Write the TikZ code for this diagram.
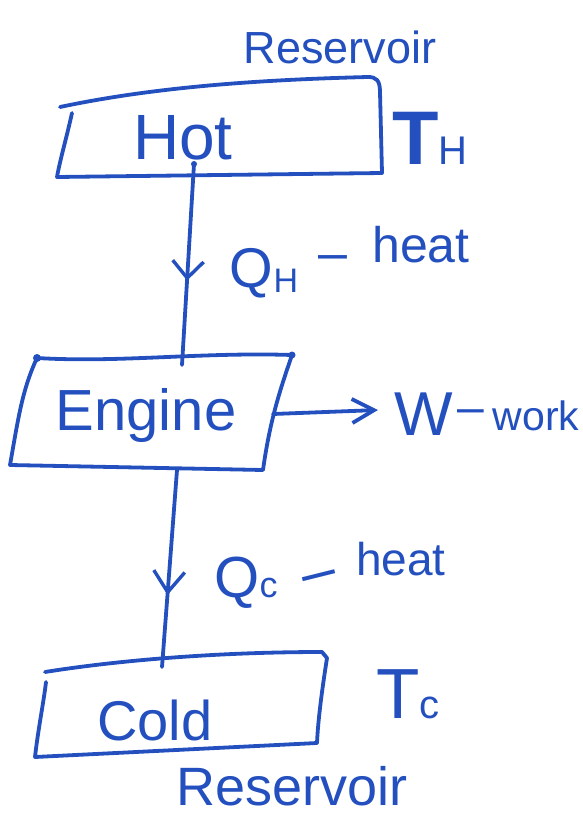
\documentclass[tikz,border=0pt]{standalone}
\usepackage{fontspec}
\setmainfont{Liberation Sans}
\usetikzlibrary{arrows.meta,decorations.markings}
\definecolor{ink}{RGB}{35,80,190}
\newcommand\hfs[1]{\fontsize{#1}{#1}\selectfont}
\tikzset{
  pen/.style={draw=ink, line width=3.8pt, line cap=round, line join=round},
  hand/.style={text=ink, inner sep=0pt, anchor=base},
  flowdown/.style 2 args={pen, postaction={decorate}, decoration={markings,
      mark=at position #1 with {\arrow[ink, line width=3.4pt]{Straight Barb[length=#2, width=31pt]}}}},
}
\begin{document}
\begin{tikzpicture}[x=1pt, y=-1pt]
  \useasboundingbox[fill=white] (0,0) rectangle (582,821);

  % hot reservoir
  \draw[pen] (72,113) .. controls (66,140) and (60,160) .. (57,177)
    -- (382,173) -- (380,92) .. controls (380,80) and (376,77) .. (368,77)
    .. controls (250,80) and (150,88) .. (60,107);
  \node[hand, font=\hfs{64}] (hot) at (183,160) {Hot};
  \node[hand, font=\hfs{45}] (resH) at (340,64) {Reservoir};
  \node[hand] (TH) at (430,165) {\hfs{76}\bfseries T\hfs{40}\mdseries H};

  % engine
  \draw[pen] (37,358) .. controls (120,363) and (200,352) .. (292,355)
    .. controls (280,390) and (270,420) .. (263,470) -- (10,465)
    .. controls (18,420) and (22,390) .. (37,358) -- cycle;
  \fill[ink] (37,358) circle (4pt) (292,355) circle (3.5pt);
  \node[hand, font=\hfs{58}] (engine) at (146,430) {Engine};

  % cold reservoir
  \draw[pen] (46,682) .. controls (44,700) and (38,730) .. (35,757)
    -- (317,743) .. controls (318,720) and (322,690) .. (327,658)
    -- (322,652) .. controls (220,652) and (120,660) .. (45,672);
  \node[hand, font=\hfs{56}] (cold) at (155,740) {Cold};
  \node[hand, font=\hfs{54}] (resC) at (292,805) {Reservoir};
  \node[hand] (TC) at (408,718) {\hfs{71}T\hfs{40}c};

  % connector end points
  \coordinate (hotout) at (194,164);
  \coordinate (engin) at (182,365);
  \coordinate (engout) at (177,470);
  \coordinate (coldin) at (162,667);
  \coordinate (engright) at (273,414);
  \coordinate (wtip) at (378,410);

  % heat in
  \draw[flowdown={0.58}{17pt}] (hotout) -- (engin);
  \fill[ink] (hotout) circle (3pt);
  \node[hand] (QH) at (264,287) {\hfs{56}Q\raisebox{-5pt}{\hfs{34}H}};
  \node[hand, font=\hfs{52}] (dashH) at (333,270) {–};
  \node[hand, font=\hfs{50}] (heatH) at (421,262) {heat};

  % heat out
  \draw[flowdown={0.635}{21pt}] (engout) -- (coldin);
  \node[hand] (QC) at (246,597) {\hfs{58}Q\hfs{36}c};
  \node[hand, font=\hfs{60}, rotate=14] (dashC) at (323,590) {–};
  \node[hand, font=\hfs{46}] (heatC) at (401,575) {heat};

  % work out
  \draw[pen, -{Straight Barb[length=22pt, width=24pt]}] (engright) -- (wtip);
  \node[hand, font=\hfs{62}] (W) at (424,435) {W};
  \node[hand, font=\hfs{48}] (dashW) at (471,423) {–};
  \node[hand, font=\hfs{41}] (work) at (536,430) {work};
\end{tikzpicture}
\end{document}
